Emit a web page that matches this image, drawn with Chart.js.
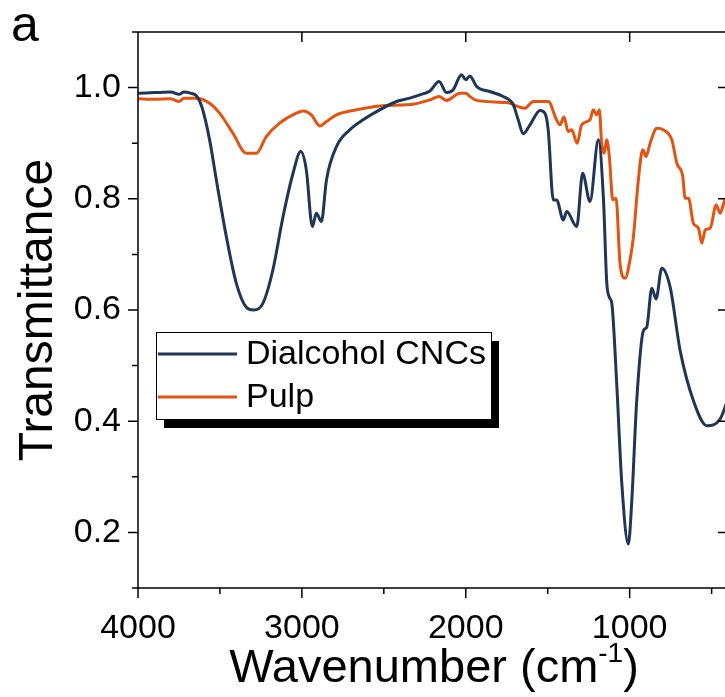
<!DOCTYPE html>
<html lang="en">
<head>
<meta charset="UTF-8">
<title>FTIR spectra</title>
<script src="https://cdn.jsdelivr.net/npm/chart.js"></script>
<style>
  html, body { margin: 0; padding: 0; background: #fff; overflow: hidden; }
  #wrap { position: relative; width: 731px; height: 697px; }
</style>
</head>
<body>
<div id="wrap"><canvas id="ftir" width="731" height="697"></canvas></div>
<script>
// values: wavenumber (cm-1) and transmittance
const cncWave = [4000, 3900, 3800, 3750, 3720, 3680, 3643, 3610, 3563, 3522, 3461, 3400, 3339, 3294, 3238, 3177, 3115, 3054, 3007, 2973, 2936, 2912, 2881, 2850, 2789, 2708, 2627, 2525, 2423, 2342, 2280, 2219, 2163, 2117, 2077, 2026, 2000, 1975, 1934, 1853, 1772, 1710, 1680, 1649, 1608, 1547, 1517, 1497, 1466, 1446, 1405, 1384, 1323, 1287, 1242, 1191, 1160, 1140, 1124, 1109, 1079, 1048, 1008, 987, 957, 916, 896, 865, 839, 804, 753, 692, 611, 529, 448, 400];
const cncT = [0.99, 0.991, 0.992, 0.988, 0.992, 0.99, 0.985, 0.965, 0.906, 0.834, 0.732, 0.648, 0.605, 0.600, 0.612, 0.672, 0.768, 0.846, 0.885, 0.852, 0.75, 0.774, 0.759, 0.834, 0.894, 0.924, 0.942, 0.96, 0.975, 0.981, 0.987, 0.994, 1.011, 0.991, 0.996, 1.023, 1.014, 1.021, 1.002, 0.993, 0.984, 0.969, 0.942, 0.917, 0.933, 0.959, 0.954, 0.924, 0.798, 0.798, 0.762, 0.777, 0.75, 0.846, 0.795, 0.906, 0.80, 0.65, 0.623, 0.612, 0.467, 0.288, 0.179, 0.257, 0.437, 0.563, 0.569, 0.639, 0.62, 0.675, 0.641, 0.527, 0.437, 0.392, 0.404, 0.44];

const pulpWave = [4000, 3900, 3800, 3750, 3720, 3643, 3563, 3502, 3421, 3339, 3278, 3217, 3136, 3034, 2993, 2942, 2891, 2850, 2789, 2667, 2525, 2362, 2321, 2219, 2163, 2117, 2036, 2000, 1975, 1934, 1751, 1639, 1588, 1497, 1446, 1425, 1401, 1375, 1354, 1320, 1293, 1242, 1222, 1201, 1185, 1171, 1156, 1140, 1124, 1103, 1083, 1059, 1028, 998, 977, 947, 920, 900, 875, 834, 794, 743, 712, 676, 662, 641, 611, 580, 560, 539, 509, 472, 448, 418, 400];
const pulpT = [0.98, 0.979, 0.98, 0.975, 0.981, 0.981, 0.972, 0.954, 0.918, 0.882, 0.882, 0.912, 0.936, 0.954, 0.958, 0.951, 0.931, 0.939, 0.951, 0.96, 0.967, 0.969, 0.97, 0.978, 0.984, 0.977, 0.99, 0.99, 0.984, 0.977, 0.973, 0.963, 0.975, 0.975, 0.942, 0.933, 0.947, 0.921, 0.924, 0.9, 0.933, 0.942, 0.96, 0.951, 0.96, 0.9, 0.882, 0.906, 0.876, 0.798, 0.801, 0.684, 0.657, 0.69, 0.732, 0.834, 0.888, 0.876, 0.9, 0.927, 0.924, 0.906, 0.864, 0.84, 0.801, 0.801, 0.756, 0.747, 0.72, 0.744, 0.747, 0.789, 0.774, 0.798, 0.80];

const seriesNames = ['Dialcohol CNCs', 'Pulp'];
const seriesColors = ['#1f3658', '#e2540f'];

const xMajor = [4000, 3000, 2000, 1000];
const xMinor = [3500, 2500, 1500, 500];
const yMajor = [0.2, 0.4, 0.6, 0.8, 1.0];
const yMinor = [0.1, 0.3, 0.5, 0.7, 0.9, 1.1];

const FONT = '"Liberation Sans", Arial, sans-serif';

function toPoints(xs, ys) {
  return xs.map((v, i) => ({ x: v, y: ys[i] }));
}

// frame, ticks, axis titles, panel letter and the shadowed legend box
const decor = {
  id: 'decor',
  afterDatasetsDraw(chart) {
    const { ctx, chartArea: a, scales: { x, y } } = chart;
    ctx.save();
    ctx.strokeStyle = '#000';
    ctx.lineWidth = 1.5;
    ctx.beginPath();
    ctx.rect(a.left, a.top, a.right - a.left, a.bottom - a.top);
    xMajor.forEach(v => {
      const p = x.getPixelForValue(v);
      ctx.moveTo(p, a.bottom); ctx.lineTo(p, a.bottom + 10);
      ctx.moveTo(p, a.top); ctx.lineTo(p, a.top + 10);
    });
    xMinor.forEach(v => {
      const p = x.getPixelForValue(v);
      ctx.moveTo(p, a.bottom); ctx.lineTo(p, a.bottom + 6);
    });
    yMajor.forEach(v => {
      const p = y.getPixelForValue(v);
      ctx.moveTo(a.left, p); ctx.lineTo(a.left - 10, p);
      ctx.moveTo(a.right, p); ctx.lineTo(a.right - 10, p);
    });
    yMinor.forEach(v => {
      const p = y.getPixelForValue(v);
      ctx.moveTo(a.left, p); ctx.lineTo(a.left - 6, p);
    });
    ctx.stroke();

    // legend
    const lx = 156, ly = 332, lw = 335, lh = 87;
    ctx.fillStyle = '#000';
    ctx.fillRect(lx + 8, ly + 9, lw, lh);
    ctx.fillStyle = '#fff';
    ctx.fillRect(lx, ly, lw, lh);
    ctx.lineWidth = 1;
    ctx.strokeRect(lx + 0.5, ly + 0.5, lw, lh);
    ctx.font = '34px ' + FONT;
    ctx.textBaseline = 'middle';
    ctx.textAlign = 'left';
    seriesNames.forEach((name, i) => {
      const yy = ly + 22 + i * 43;
      ctx.strokeStyle = seriesColors[i];
      ctx.lineWidth = 3;
      ctx.beginPath();
      ctx.moveTo(lx + 2, yy); ctx.lineTo(lx + 81, yy);
      ctx.stroke();
      ctx.fillStyle = '#000';
      ctx.fillText(name, lx + 90, yy + 1);
    });

    // axis titles
    ctx.fillStyle = '#000';
    ctx.textBaseline = 'alphabetic';
    ctx.font = '48px ' + FONT;
    ctx.save();
    ctx.translate(52, (a.top + a.bottom) / 2);
    ctx.rotate(-Math.PI / 2);
    ctx.textAlign = 'center';
    ctx.fillText('Transmittance', 0, 0);
    ctx.restore();

    const t1 = 'Wavenumber (cm', sup = '-1', t2 = ')';
    ctx.font = '47px ' + FONT;
    const w1 = ctx.measureText(t1).width, w3 = ctx.measureText(t2).width;
    ctx.font = '28px ' + FONT;
    const w2 = ctx.measureText(sup).width;
    const sx = 434 - (w1 + w2 + w3) / 2;
    const base = 682;
    ctx.textAlign = 'left';
    ctx.font = '47px ' + FONT;
    ctx.fillText(t1, sx, base);
    ctx.font = '28px ' + FONT;
    ctx.fillText(sup, sx + w1, base - 20);
    ctx.font = '47px ' + FONT;
    ctx.fillText(t2, sx + w1 + w2, base);

    ctx.font = '50px ' + FONT;
    ctx.fillText('a', 11, 41);
    ctx.restore();
  }
};

new Chart(document.getElementById('ftir'), {
  type: 'line',
  data: {
    datasets: [
      { label: seriesNames[0], data: toPoints(cncWave, cncT), borderColor: seriesColors[0], borderWidth: 3, pointRadius: 0, cubicInterpolationMode: 'monotone' },
      { label: seriesNames[1], data: toPoints(pulpWave, pulpT), borderColor: seriesColors[1], borderWidth: 3, pointRadius: 0, cubicInterpolationMode: 'monotone' }
    ]
  },
  options: {
    responsive: false,
    animation: false,
    devicePixelRatio: 1,
    layout: { padding: { top: 32, right: 3, left: 0, bottom: 0 } },
    plugins: { legend: { display: false }, tooltip: { enabled: false } },
    scales: {
      x: {
        type: 'linear',
        reverse: true,
        min: 400,
        max: 4000,
        afterBuildTicks: s => { s.ticks = xMajor.map(v => ({ value: v })); },
        afterFit: s => { s.height = 109; s.paddingLeft = 0; s.paddingRight = 0; },
        grid: { display: false, drawTicks: false },
        border: { display: false },
        ticks: { color: '#000', font: { size: 34, family: FONT }, padding: 20, maxRotation: 0, autoSkip: false, callback: v => String(v) }
      },
      y: {
        min: 0.1,
        max: 1.1,
        afterBuildTicks: s => { s.ticks = yMajor.map(v => ({ value: v })); },
        afterFit: s => { s.width = 138; s.paddingTop = 0; s.paddingBottom = 0; },
        grid: { display: false, drawTicks: false },
        border: { display: false },
        ticks: { color: '#000', font: { size: 34, family: FONT }, padding: 17, callback: v => v.toFixed(1) }
      }
    }
  },
  plugins: [decor]
});
</script>
</body>
</html>
